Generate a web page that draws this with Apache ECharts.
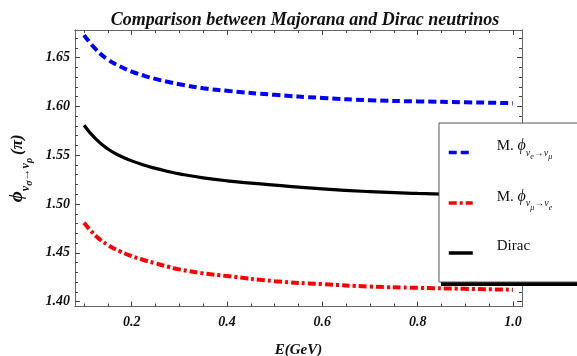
<!DOCTYPE html>
<html>
<head>
<meta charset="utf-8">
<script src="https://cdn.jsdelivr.net/npm/echarts@6/dist/echarts.min.js"></script>
<style>
html,body{margin:0;padding:0;background:#fff;}
#chart{width:577px;height:356px;}
</style>
</head>
<body>
<div id="chart"></div>
<script>
// Energies (GeV)
const energy = [0.1, 0.125, 0.15, 0.175, 0.2, 0.225, 0.25, 0.275, 0.3, 0.35, 0.4, 0.5, 0.6, 0.7, 0.8, 0.9, 1.0];
// Majorana phi (nu_e -> nu_mu), in units of pi
const majoranaEMu = [1.673, 1.6583, 1.648, 1.641, 1.6357, 1.6316, 1.6281, 1.6252, 1.6227, 1.6186, 1.6159, 1.6118, 1.6086, 1.6063, 1.6051, 1.6042, 1.6033];
// Majorana phi (nu_mu -> nu_e)
const majoranaMuE = [1.4808, 1.4673, 1.4581, 1.4517, 1.4467, 1.4427, 1.4393, 1.436, 1.4331, 1.429, 1.4263, 1.421, 1.418, 1.4155, 1.4142, 1.4132, 1.4123];
// Dirac phi
const dirac = [1.5807, 1.5664, 1.5564, 1.5494, 1.5442, 1.540, 1.5365, 1.5335, 1.5309, 1.5268, 1.5238, 1.5194, 1.5155, 1.5127, 1.5109, 1.5097, 1.5088];

const xMajor = [0.2, 0.4, 0.6, 0.8, 1.0];
const xMinor = [0.1, 0.15, 0.25, 0.3, 0.35, 0.45, 0.5, 0.55, 0.65, 0.7, 0.75, 0.85, 0.9, 0.95];
const yMajor = [1.40, 1.45, 1.50, 1.55, 1.60, 1.65];
const yMinor = [1.41, 1.42, 1.43, 1.44, 1.46, 1.47, 1.48, 1.49, 1.51, 1.52, 1.53, 1.54, 1.56, 1.57, 1.58, 1.59, 1.61, 1.62, 1.63, 1.64, 1.66, 1.67];

const xMin = 0.081, xMax = 1.019, yMin = 1.3951, yMax = 1.6782;
const serif = 'Liberation Serif';
const frameColor = '#666';

function pairs(ys){ return energy.map((e,i)=>[e, ys[i]]); }

function xAx(pos, ticks, len, labels, extra){
  return Object.assign({
    type:'value', position:pos, min:xMin, max:xMax,
    axisLine:{show:true, lineStyle:{color:frameColor, width:1}},
    axisTick:{show:true, inside:true, length:len, customValues:ticks, lineStyle:{color:'#444', width:1}},
    axisLabel:labels ? {show:true, customValues:xMajor, margin:9, formatter:v=>v.toFixed(1),
      fontFamily:serif, fontStyle:'italic', fontWeight:'bold', fontSize:14, color:'#111'} : {show:false},
    splitLine:{show:false}
  }, extra||{});
}
function yAx(pos, ticks, len, labels, extra){
  return Object.assign({
    type:'value', position:pos, min:yMin, max:yMax,
    axisLine:{show:true, lineStyle:{color:frameColor, width:1}},
    axisTick:{show:true, inside:true, length:len, customValues:ticks, lineStyle:{color:'#444', width:1}},
    axisLabel:labels ? {show:true, customValues:yMajor, margin:5, formatter:v=>v.toFixed(2),
      fontFamily:serif, fontStyle:'italic', fontWeight:'bold', fontSize:14, color:'#111'} : {show:false},
    splitLine:{show:false}
  }, extra||{});
}

const subRich = {
  p:{fontFamily:serif, fontStyle:'italic', fontWeight:'bold', fontSize:19, lineHeight:20, verticalAlign:'bottom', padding:[0,0,8,0], color:'#111'},
  s:{fontFamily:serif, fontStyle:'italic', fontWeight:'bold', fontSize:12, lineHeight:13, verticalAlign:'bottom', padding:[0,0,3,0], color:'#111'},
  ss:{fontFamily:serif, fontStyle:'italic', fontWeight:'bold', fontSize:10, lineHeight:11, verticalAlign:'bottom', padding:[0,0,0,0], color:'#111'},
  n:{fontFamily:serif, fontStyle:'italic', fontWeight:'bold', fontSize:17, lineHeight:20, verticalAlign:'bottom', padding:[0,0,8,3], color:'#111'}
};

const legRich = {
  m:{fontFamily:serif, fontSize:15, lineHeight:16, verticalAlign:'bottom', padding:[0,0,7,0], color:'#111'},
  p:{fontFamily:serif, fontStyle:'italic', fontSize:16, lineHeight:17, verticalAlign:'bottom', padding:[0,0,7,0], color:'#111'},
  s:{fontFamily:serif, fontStyle:'italic', fontSize:10, lineHeight:11, verticalAlign:'bottom', padding:[0,0,3,0], color:'#111'},
  ss:{fontFamily:serif, fontStyle:'italic', fontSize:8, lineHeight:9, verticalAlign:'bottom', padding:[0,0,0,0], color:'#111'}
};
const legendLabels = {
  'M1':'{m|M. }{p|ϕ}{s|ν}{ss|e}{s|→ν}{ss|μ}',
  'M2':'{m|M. }{p|ϕ}{s|ν}{ss|μ}{s|→ν}{ss|e}',
  'Dirac':'{m|Dirac}'
};

const chart = echarts.init(document.getElementById('chart'), null, {renderer:'canvas'});
chart.setOption({
  animation:false,
  backgroundColor:'#fff',
  title:{
    text:'Comparison between Majorana and Dirac neutrinos',
    left:300, top:6, textAlign:'center',
    textStyle:{fontFamily:serif, fontStyle:'italic', fontWeight:'bold', fontSize:18, color:'#111'}
  },
  grid:{left:75, right:55, top:30, bottom:49.5, containLabel:false, outerBoundsMode:'none'},
  xAxis:[
    xAx('bottom', xMajor, 5, true, {name:'E(GeV)', nameLocation:'middle', nameGap:36,
      nameTextStyle:{fontFamily:serif, fontStyle:'italic', fontWeight:'bold', fontSize:15, color:'#111'}}),
    xAx('bottom', xMinor, 3, false),
    xAx('top', xMajor, 5, false),
    xAx('top', xMinor, 3, false)
  ],
  yAxis:[
    yAx('left', yMajor, 5, true, {name:'{p|ϕ}{s|ν}{ss|σ}{s|→ν}{ss|ρ}{n|(π)}', nameLocation:'middle', nameRotate:90, nameGap:40,
      nameTextStyle:{rich:subRich}}),
    yAx('left', yMinor, 3, false),
    yAx('right', yMajor, 5, false),
    yAx('right', yMinor, 3, false)
  ],
  graphic:[
    {type:'rect', z:3, silent:true, shape:{x:441, y:126, width:200, height:160}, style:{fill:'#000'}}
  ],
  legend:{
    data:[
      {name:'M1', itemStyle:{opacity:0}},
      {name:'M2', itemStyle:{opacity:0}},
      {name:'Dirac', itemStyle:{opacity:0}}
    ],
    orient:'vertical', left:439, top:123,
    padding:[15, 220, 21, 8],
    itemGap:27.5, itemWidth:24, itemHeight:14,
    backgroundColor:'#fff', borderColor:'#555', borderWidth:1,
    itemStyle:{opacity:0},
    lineStyle:{width:3.5},
    formatter:n=>legendLabels[n],
    textStyle:{padding:[0,0,0,19], rich:legRich},
    selectedMode:false
  },
  series:[
    {name:'M1', type:'line', xAxisIndex:0, yAxisIndex:0, data:pairs(majoranaEMu), smooth:0.5,
     symbol:'none', lineStyle:{color:'#0000ff', width:4, type:[8,4]}, itemStyle:{color:'#0000ff'}},
    {name:'M2', type:'line', xAxisIndex:0, yAxisIndex:0, data:pairs(majoranaMuE), smooth:0.5,
     symbol:'none', lineStyle:{color:'#ff0000', width:4, type:[8,3,3,3]}, itemStyle:{color:'#ff0000'}},
    {name:'Dirac', type:'line', xAxisIndex:0, yAxisIndex:0, data:pairs(dirac), smooth:0.5,
     symbol:'none', lineStyle:{color:'#000', width:3.2}, itemStyle:{color:'#000'}}
  ]
});
</script>
</body>
</html>
